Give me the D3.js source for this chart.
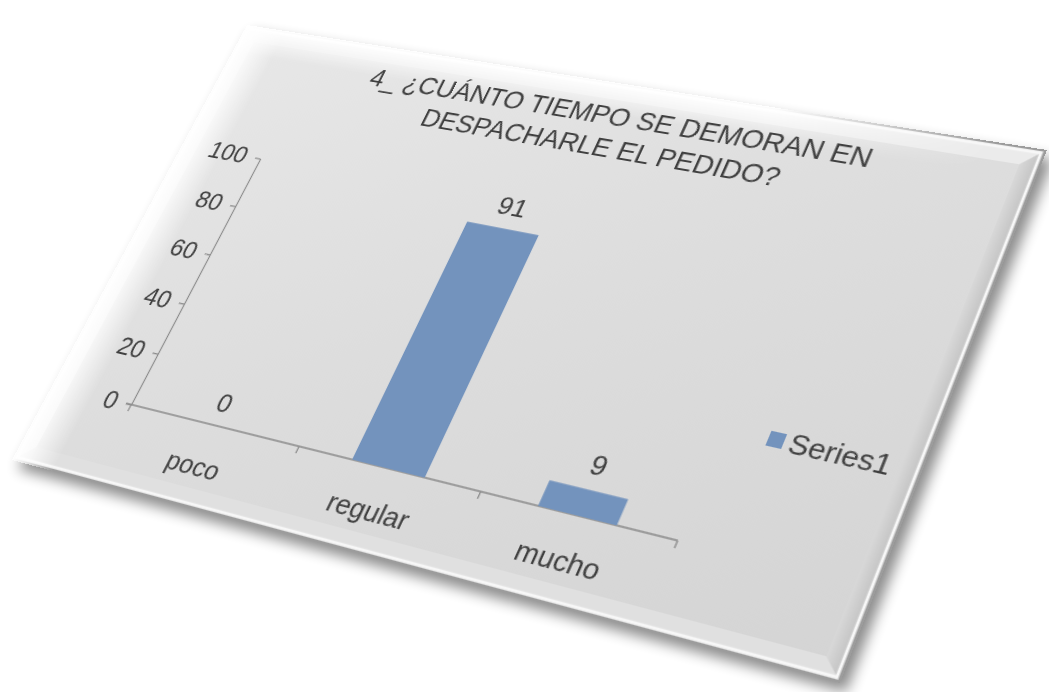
<!DOCTYPE html>
<html>
<head>
<meta charset="utf-8">
<script src="https://cdn.jsdelivr.net/npm/d3@7"></script>
<style>
  html, body { margin: 0; padding: 0; background: #ffffff; overflow: hidden; }
  #stage { position: relative; width: 1049px; height: 692px; }
  #shadow { position: absolute; left: 0; top: 0; }
  #panel { position: absolute; left: 0; top: 0; transform-origin: 0 0; }
  text { font-family: "Liberation Sans", Arial, sans-serif; fill: #404040; }
</style>
</head>
<body>
<div id="stage">
  <svg id="shadow" width="1049" height="692"></svg>
  <div id="panel"></div>
</div>
<script>
// ---- data ----
const categories = ["poco", "regular", "mucho"];
const values = [0, 91, 9];
const yTicks = [0, 20, 40, 60, 80, 100];
const titleLines = ["4_ ¿CUÁNTO TIEMPO SE DEMORAN EN", "DESPACHARLE EL PEDIDO?"];
const seriesName = "Series1";

// ---- flat chart size and the tilted card it is printed on ----
const W = 820, H = 500;
const card = [[247, 25], [1047, 150], [840, 683], [12, 460]]; // TL, TR, BR, BL

// projective map from the W x H rectangle onto the card quad
function cardMatrix(q) {
  const [[x0, y0], [x1, y1], [x2, y2], [x3, y3]] = q;
  const dx1 = x1 - x2, dx2 = x3 - x2, dx3 = x0 - x1 + x2 - x3;
  const dy1 = y1 - y2, dy2 = y3 - y2, dy3 = y0 - y1 + y2 - y3;
  const den = dx1 * dy2 - dx2 * dy1;
  const g = (dx3 * dy2 - dx2 * dy3) / den;
  const h = (dx1 * dy3 - dx3 * dy1) / den;
  const a = x1 - x0 + g * x1, b = x3 - x0 + h * x3, c = x0;
  const d = y1 - y0 + g * y1, e = y3 - y0 + h * y3, f = y0;
  return [a / W, d / W, 0, g / W,
          b / H, e / H, 0, h / H,
          0, 0, 1, 0,
          c, f, 0, 1];
}
d3.select("#panel")
  .style("width", W + "px").style("height", H + "px")
  .style("transform", "matrix3d(" + cardMatrix(card).join(",") + ")");

// soft shadow under the card
const sh = d3.select("#shadow");
sh.append("defs").append("filter").attr("id", "blur")
  .attr("x", "-10%").attr("y", "-10%").attr("width", "120%").attr("height", "120%")
  .append("feGaussianBlur").attr("stdDeviation", 7);
sh.append("polygon")
  .attr("points", card.map(p => [p[0] + 6, p[1] + 9].join(",")).join(" "))
  .attr("fill", "#000").attr("opacity", 0.45).attr("filter", "url(#blur)");

// ---- card face ----
const svg = d3.select("#panel").append("svg").attr("width", W).attr("height", H);
const defs = svg.append("defs");

const face = defs.append("linearGradient").attr("id", "face")
  .attr("x1", 0).attr("y1", 0).attr("x2", 1).attr("y2", 1);
face.append("stop").attr("offset", 0).attr("stop-color", "#e8e8e8");
face.append("stop").attr("offset", 0.5).attr("stop-color", "#dddddd");
face.append("stop").attr("offset", 1).attr("stop-color", "#d4d4d4");

const leftFade = defs.append("linearGradient").attr("id", "leftFade")
  .attr("x1", 0).attr("y1", 0).attr("x2", 1).attr("y2", 0);
leftFade.append("stop").attr("offset", 0).attr("stop-color", "#fff").attr("stop-opacity", 1);
leftFade.append("stop").attr("offset", 0.35).attr("stop-color", "#fff").attr("stop-opacity", 0.75);
leftFade.append("stop").attr("offset", 1).attr("stop-color", "#fff").attr("stop-opacity", 0);

const topFade = defs.append("linearGradient").attr("id", "topFade")
  .attr("x1", 0).attr("y1", 0).attr("x2", 0).attr("y2", 1);
topFade.append("stop").attr("offset", 0).attr("stop-color", "#fff").attr("stop-opacity", 1);
topFade.append("stop").attr("offset", 1).attr("stop-color", "#fff").attr("stop-opacity", 0);

const topMaskGrad = defs.append("linearGradient").attr("id", "topMaskGrad")
  .attr("x1", 0).attr("y1", 0).attr("x2", 1).attr("y2", 0);
topMaskGrad.append("stop").attr("offset", 0).attr("stop-color", "#fff");
topMaskGrad.append("stop").attr("offset", 0.7).attr("stop-color", "#fff");
topMaskGrad.append("stop").attr("offset", 0.95).attr("stop-color", "#000");
defs.append("mask").attr("id", "topMask")
  .append("rect").attr("width", W).attr("height", H).attr("fill", "url(#topMaskGrad)");

const rightBevel = defs.append("linearGradient").attr("id", "rightBevel")
  .attr("x1", 0).attr("y1", 0).attr("x2", 1).attr("y2", 0);
rightBevel.append("stop").attr("offset", 0).attr("stop-color", "#d8d8d8");
rightBevel.append("stop").attr("offset", 0.7).attr("stop-color", "#c6c6c6");
rightBevel.append("stop").attr("offset", 1).attr("stop-color", "#b8b8b8");

svg.append("rect").attr("width", W).attr("height", H).attr("fill", "url(#face)");

// bevelled rim
const B = 18;
const bevels = [
  { pts: [[0, 0], [W, 0], [W - B, B], [B, B]], fill: "#ebebeb" },
  { pts: [[W, 0], [W, H], [W - B, H - B], [W - B, B]], fill: "url(#rightBevel)" },
  { pts: [[0, H], [W, H], [W - B, H - B], [B, H - B]], fill: "#e0e0e0" },
  { pts: [[0, 0], [0, H], [B, H - B], [B, B]], fill: "#eeeeee" }
];
svg.append("g").selectAll("polygon").data(bevels).join("polygon")
  .attr("points", d => d.pts.map(p => p.join(",")).join(" "))
  .attr("fill", d => d.fill);
svg.append("rect").attr("x", 4).attr("y", 4).attr("width", W - 8).attr("height", H - 8)
  .attr("fill", "none").attr("stroke", "#f7f7f7").attr("stroke-width", 2.5);
svg.append("rect").attr("x", 1).attr("y", 1).attr("width", W - 2).attr("height", H - 2)
  .attr("fill", "none").attr("stroke", "#9c9c9c").attr("stroke-width", 2);

// faded, worn upper-left edges
svg.append("rect").attr("width", W).attr("height", 34)
  .attr("fill", "url(#topFade)").attr("mask", "url(#topMask)");
svg.append("rect").attr("width", 48).attr("height", H).attr("fill", "url(#leftFade)");

// ---- chart ----
const plot = { left: 92, right: 648, top: 144.5, bottom: 419 };
const barColor = "#7393bd";
const axisColor = "#8a8a8a";

const x = d3.scaleBand().domain(categories)
  .range([plot.left, plot.right]).paddingInner(0.6).paddingOuter(0.3);
const y = d3.scaleLinear().domain([0, 100]).range([plot.bottom, plot.top]);

// title
svg.append("g").selectAll("text").data(titleLines).join("text")
  .attr("x", 420).attr("y", (d, i) => 45 + i * 34.5)
  .attr("text-anchor", "middle").attr("font-size", 27)
  .text(d => d);

// y axis
const yAxis = svg.append("g").attr("transform", `translate(${plot.left},0)`)
  .call(d3.axisLeft(y).tickValues(yTicks).tickSize(6).tickSizeOuter(0).tickPadding(10));
yAxis.select(".domain").attr("stroke", axisColor).attr("stroke-width", 1.3);
yAxis.selectAll(".tick line").attr("stroke", axisColor).attr("stroke-width", 1.3);
yAxis.selectAll(".tick text").attr("font-size", 26).attr("fill", "#404040")
  .attr("font-family", "Liberation Sans, Arial, sans-serif");

// x axis: labels under each category, ticks between categories
const xAxis = svg.append("g").attr("transform", `translate(0,${plot.bottom})`)
  .call(d3.axisBottom(x).tickSize(0).tickSizeOuter(0).tickPadding(33));
xAxis.select(".domain").remove();
xAxis.selectAll(".tick text").attr("font-size", 26).attr("fill", "#404040")
  .attr("font-family", "Liberation Sans, Arial, sans-serif");
svg.append("line")
  .attr("x1", plot.left - 6).attr("x2", plot.right)
  .attr("y1", plot.bottom).attr("y2", plot.bottom)
  .attr("stroke", axisColor).attr("stroke-width", 1.3);
const half = (x.step() - x.bandwidth()) / 2;
const bounds = categories.map(c => x(c) - half).concat([x(categories[categories.length - 1]) + x.bandwidth() + half]);
svg.append("g").selectAll("line").data(bounds).join("line")
  .attr("x1", d => d).attr("x2", d => d)
  .attr("y1", plot.bottom).attr("y2", plot.bottom + 7)
  .attr("stroke", axisColor).attr("stroke-width", 1.3);

// bars
svg.append("g").selectAll("rect").data(values).join("rect")
  .attr("x", (d, i) => x(categories[i]))
  .attr("width", x.bandwidth())
  .attr("y", d => y(d))
  .attr("height", d => y(0) - y(d))
  .attr("fill", barColor);

// value labels
svg.append("g").selectAll("text").data(values).join("text")
  .attr("x", (d, i) => x(categories[i]) + x.bandwidth() / 2)
  .attr("y", d => y(d) - 14)
  .attr("text-anchor", "middle").attr("font-size", 26)
  .text(d => d);

// legend
const lg = svg.append("g").attr("transform", "translate(694,313)");
lg.append("rect").attr("x", -7).attr("y", -7).attr("width", 14).attr("height", 14).attr("fill", barColor);
lg.append("text").attr("x", 12).attr("y", 9).attr("font-size", 26).text(seriesName);
</script>
</body>
</html>
